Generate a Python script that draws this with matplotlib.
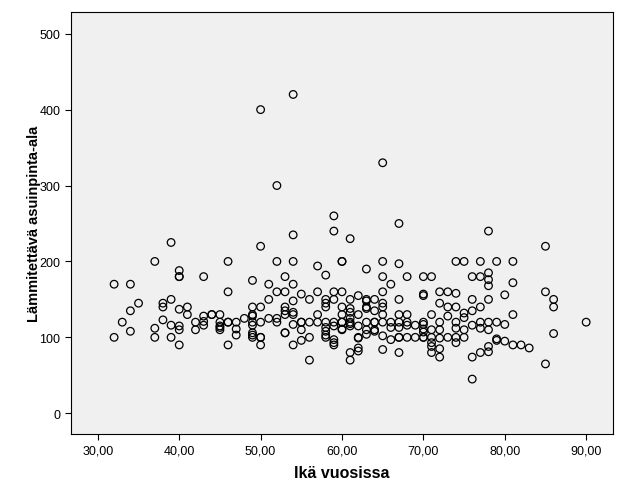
import matplotlib.pyplot as plt
import numpy as np

# age -> list of heated living area values
ages = [32, 33, 34, 35, 37, 38, 39, 40, 41, 42, 43, 44, 45, 46, 47, 48, 49, 50,
        51, 52, 53, 54, 55, 56, 57, 58, 59, 60, 61, 62, 63, 64, 65, 66, 67, 68,
        69, 70, 71, 72, 73, 74, 75, 76, 77, 78, 79, 80, 81, 82, 83, 85, 86, 90]
areas = [
    [170, 100],
    [120],
    [170, 135, 108],
    [145],
    [200, 112, 100],
    [145, 140, 123],
    [225, 150, 116, 100],
    [188, 180, 180, 137, 115, 110, 90],
    [140, 130],
    [120, 110],
    [180, 128, 121, 116],
    [130, 130],
    [130, 120, 115, 113, 110],
    [200, 160, 120, 120, 90],
    [120, 111, 103],
    [125],
    [175, 140, 130, 128, 120, 116, 106, 103, 100],
    [400, 220, 140, 120, 100, 100, 90],
    [170, 150, 125],
    [300, 200, 160, 125, 120],
    [180, 160, 140, 135, 130, 106, 106],
    [420, 235, 200, 170, 148, 133, 130, 117, 90],
    [157, 120, 120, 110, 96],
    [150, 120, 100, 70],
    [194, 160, 130, 120],
    [182, 150, 145, 140, 120, 113, 108, 103, 100],
    [260, 240, 160, 150, 120, 115, 97, 93, 90],
    [200, 200, 160, 140, 130, 120, 120, 111, 110],
    [230, 150, 138, 133, 125, 120, 118, 115, 80, 70],
    [155, 130, 115, 100, 99, 86, 82],
    [190, 150, 148, 140, 138, 120, 110, 104],
    [150, 135, 120, 120, 110, 108],
    [330, 200, 180, 160, 145, 140, 130, 120, 102, 84],
    [170, 120, 113, 97],
    [250, 197, 150, 130, 120, 113, 100, 100, 80],
    [180, 130, 120, 116, 100],
    [116, 100],
    [180, 157, 155, 120, 117, 111, 107, 100, 100],
    [180, 130, 110, 100, 93, 88, 80],
    [160, 145, 120, 110, 99, 85, 74],
    [160, 140, 128, 100],
    [200, 158, 140, 120, 112, 100, 93],
    [200, 132, 126, 110, 100],
    [180, 150, 135, 116, 74, 45],
    [200, 180, 140, 120, 112, 80],
    [240, 185, 176, 168, 150, 120, 110, 88, 81],
    [200, 120, 98, 96],
    [156, 117, 95],
    [200, 172, 130, 90],
    [90],
    [86],
    [220, 160, 65],
    [150, 140, 105],
    [120],
]

x = np.concatenate([[a] * len(v) for a, v in zip(ages, areas)])
y = np.concatenate(areas)

plt.rcParams['font.family'] = ['Liberation Sans Narrow', 'Liberation Sans', 'DejaVu Sans']

fig = plt.figure(figsize=(6.27, 5.02), dpi=100)
ax = fig.add_axes([0.1132, 0.1335, 0.8645, 0.8406])
ax.set_facecolor('#f0f0f0')

ax.scatter(x, y, s=30, facecolors='none', edgecolors='black', linewidths=0.9)

ax.set_xlim(26.7, 93.3)
ax.set_ylim(-27.3, 528.6)
ax.set_xticks(np.arange(30, 91, 10))
ax.set_xticklabels([f"{t},00" for t in range(30, 91, 10)])
ax.set_yticks(np.arange(0, 501, 100))

ax.tick_params(axis='both', direction='out', length=4, width=0.8, labelsize=9, colors='black')
for s in ax.spines.values():
    s.set_color('black')
    s.set_linewidth(0.8)

ax.set_xlabel("Ikä vuosissa", fontsize=11.5, fontweight='bold', labelpad=6,
              family=['Liberation Sans', 'DejaVu Sans'])
ax.set_ylabel("Lämmitettävä asuinpinta-ala", fontsize=10.5, fontweight='bold', labelpad=-1,
              family=['Liberation Sans', 'DejaVu Sans'])

fig.savefig("out.png", dpi=100)
plt.close()
